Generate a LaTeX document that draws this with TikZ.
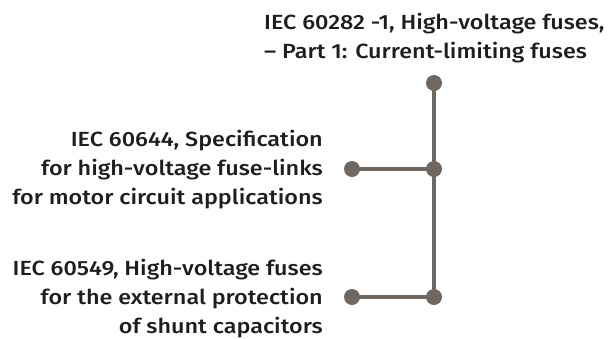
\documentclass[tikz,border=0pt]{standalone}
\usepackage{fontspec}
\setmainfont{Fira Sans Medium}[FakeStretch=1.14]
\definecolor{linegray}{HTML}{6E6762}
\definecolor{txt}{HTML}{1E1E1E}
\begin{document}
\begin{tikzpicture}[x=1pt,y=-1pt,
  label/.style={inner sep=0pt,text=txt,font=\fontsize{20.5}{29}\selectfont},
  dot/.style={circle,fill=linegray,inner sep=0pt,minimum size=16pt},
  wire/.style={draw=linegray,line width=3.2pt}]
\useasboundingbox (0,0) rectangle (608,338);
\node[label,align=left,anchor=north west] (t1) at (264,12.6)
  {IEC 60282 -1, High-voltage fuses,\\– Part 1: Current-limiting fuses};
\node[label,align=right,anchor=north east] (t2) at (323,129.6)
  {IEC 60644, Specification\\for high-voltage fuse-links\\for motor circuit applications};
\node[label,align=right,anchor=north east] (t3) at (323,259)
  {IEC 60549, High-voltage fuses\\for the external protection\\of shunt capacitors};
\node[dot] (d0) at (434,83) {};
\node[dot] (d1) at (434,169) {};
\node[dot] (d2) at (434,297) {};
\node[dot] (l1) at (352,169) {};
\node[dot] (l2) at (352,297) {};
\draw[wire] (d0.center) -- (d1.center) -- (d2.center);
\draw[wire] (l1.center) -- (d1.center);
\draw[wire] (l2.center) -- (d2.center);
\end{tikzpicture}
\end{document}
